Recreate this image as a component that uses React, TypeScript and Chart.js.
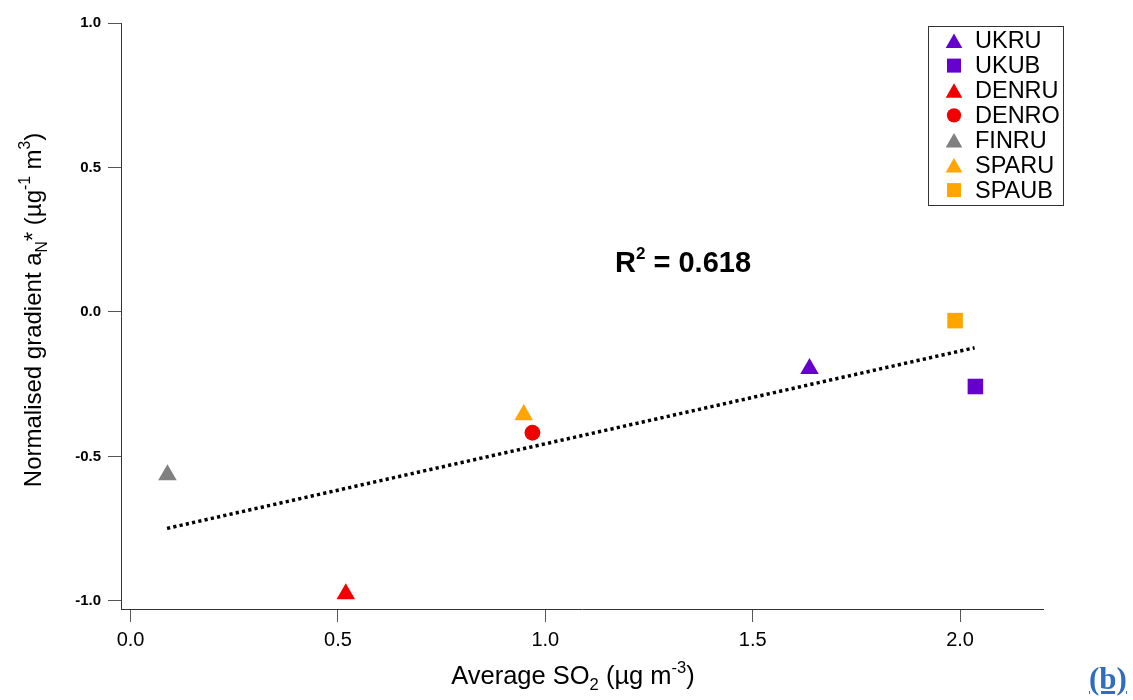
import React, { useEffect, useRef } from "react";
import { Chart, registerables } from "chart.js";

Chart.register(...registerables);

// ---- data ----
const seriesNames = ["UKRU", "UKUB", "DENRU", "DENRO", "FINRU", "SPARU", "SPAUB"];
const seriesX = [1.637, 2.037, 0.519, 0.969, 0.089, 0.948, 1.988];
const seriesY = [-0.196, -0.258, -0.976, -0.418, -0.564, -0.356, -0.03];
const seriesColors = ["#6600cc", "#6600cc", "#f00000", "#f00000", "#808080", "#ffa500", "#ffa500"];
const seriesShapes = ["triangle", "rect", "triangle", "circle", "triangle", "triangle", "rect"];
const fitX = [0.088, 2.035];
const fitY = [-0.749, -0.124];
const xTicks = [0, 0.5, 1.0, 1.5, 2.0];
const yTicks = [-1.0, -0.5, 0, 0.5, 1.0];
const rSquaredText = "0.618";

const FONT = '"Liberation Sans", Arial, Helvetica, sans-serif';

function radiusFor(shape: string) {
  if (shape === "triangle") return 10.7;
  if (shape === "rect") return 11;
  return 7.9;
}

type Seg = { t: string; s: number; dy: number };

function drawRich(ctx: CanvasRenderingContext2D, segs: Seg[], x: number, y: number, weight: string, align: "center" | "left") {
  let total = 0;
  const widths: number[] = [];
  for (const sg of segs) {
    ctx.font = `${weight} ${sg.s}px ${FONT}`;
    const w = ctx.measureText(sg.t).width;
    widths.push(w);
    total += w;
  }
  let cx = align === "center" ? x - total / 2 : x;
  ctx.textAlign = "left";
  ctx.textBaseline = "alphabetic";
  segs.forEach((sg, i) => {
    ctx.font = `${weight} ${sg.s}px ${FONT}`;
    ctx.fillText(sg.t, cx, y + sg.dy);
    cx += widths[i];
  });
}

function drawMarker(ctx: CanvasRenderingContext2D, shape: string, x: number, y: number, r: number, color: string) {
  ctx.fillStyle = color;
  ctx.beginPath();
  if (shape === "triangle") {
    for (let k = 0; k < 3; k++) {
      const a = (k * 2 * Math.PI) / 3;
      const px = x + Math.sin(a) * r;
      const py = y - Math.cos(a) * r;
      if (k === 0) ctx.moveTo(px, py);
      else ctx.lineTo(px, py);
    }
    ctx.closePath();
  } else if (shape === "rect") {
    const h = r * Math.SQRT1_2;
    ctx.rect(x - h, y - h, 2 * h, 2 * h);
  } else {
    ctx.arc(x, y, r, 0, Math.PI * 2);
  }
  ctx.fill();
}

const textPlugin = {
  id: "customText",
  afterDraw(chart: any) {
    const ctx: CanvasRenderingContext2D = chart.ctx;
    const area = chart.chartArea;
    ctx.save();
    ctx.fillStyle = "#000";
    const FX = 25.5;
    // x-axis title
    drawRich(
      ctx,
      [
        { t: "Average SO", s: FX, dy: 0 },
        { t: "2", s: FX * 0.65, dy: FX * 0.25 },
        { t: " (µg m", s: FX, dy: 0 },
        { t: "-3", s: FX * 0.65, dy: -FX * 0.45 },
        { t: ")", s: FX, dy: 0 },
      ],
      573,
      area.bottom + 75,
      "normal",
      "center"
    );
    // y-axis title
    const FY = 24;
    ctx.save();
    ctx.translate(41, 310);
    ctx.rotate(-Math.PI / 2);
    drawRich(
      ctx,
      [
        { t: "Normalised gradient a", s: FY, dy: 0 },
        { t: "N", s: FY * 0.65, dy: FY * 0.25 },
        { t: "*", s: FY, dy: 0 },
        { t: " (µg", s: FY, dy: 0 },
        { t: "-1", s: FY * 0.65, dy: -FY * 0.45 },
        { t: " m", s: FY, dy: 0 },
        { t: "3", s: FY * 0.65, dy: -FY * 0.45 },
        { t: ")", s: FY, dy: 0 },
      ],
      0,
      0,
      "normal",
      "center"
    );
    ctx.restore();
    // R^2 annotation
    drawRich(
      ctx,
      [
        { t: "R", s: 29, dy: 0 },
        { t: "2", s: 17, dy: -13 },
        { t: " = " + rSquaredText, s: 29, dy: 0 },
      ],
      615,
      272,
      "bold",
      "left"
    );
    // legend
    const bx = 928.5, by = 26.5, bw = 135, bh = 179;
    ctx.fillStyle = "#fff";
    ctx.fillRect(bx, by, bw, bh);
    ctx.strokeStyle = "#333";
    ctx.lineWidth = 1;
    ctx.strokeRect(bx, by, bw, bh);
    seriesNames.forEach((name, i) => {
      const cy = 40.7 + i * 24.9;
      const shape = seriesShapes[i];
      const r = radiusFor(shape) * 0.9;
      const my = shape === "triangle" ? cy + r / 4 : cy;
      drawMarker(ctx, shape, 954, my, r, seriesColors[i]);
      ctx.fillStyle = "#000";
      ctx.font = `normal 23.5px ${FONT}`;
      ctx.textAlign = "left";
      ctx.textBaseline = "middle";
      ctx.fillText(name, 975, cy + 1);
    });
    ctx.restore();
  },
};

export default function App() {
  const ref = useRef<HTMLCanvasElement | null>(null);

  useEffect(() => {
    if (!ref.current) return;
    const pointDatasets = seriesNames.map((name, i) => ({
      type: "scatter" as const,
      label: name,
      data: [{ x: seriesX[i], y: seriesY[i] }],
      pointStyle: seriesShapes[i],
      pointRadius: radiusFor(seriesShapes[i]),
      pointBackgroundColor: seriesColors[i],
      pointBorderColor: seriesColors[i],
      pointBorderWidth: 0,
      backgroundColor: seriesColors[i],
      borderColor: seriesColors[i],
      showLine: false,
    }));
    const fitDataset = {
      type: "line" as const,
      label: "fit",
      data: fitX.map((x, i) => ({ x, y: fitY[i] })),
      borderColor: "#000",
      borderWidth: 3.5,
      borderDash: [3.2, 3.2],
      pointRadius: 0,
      fill: false,
      tension: 0,
    };
    const chart = new Chart(ref.current, {
      type: "scatter",
      data: { datasets: [fitDataset as any, ...pointDatasets] },
      options: {
        responsive: false,
        animation: false,
        devicePixelRatio: 1,
        layout: { padding: { top: 23, right: 90, left: 0, bottom: 0 } },
        plugins: {
          legend: { display: false },
          tooltip: { enabled: false },
          title: { display: false },
        },
        scales: {
          x: {
            type: "linear",
            min: -0.023,
            max: 2.2,
            afterBuildTicks: (scale: any) => {
              scale.ticks = xTicks.map((v) => ({ value: v }));
            },
            afterFit: (scale: any) => {
              scale.height = 91;
            },
            ticks: {
              color: "#000",
              font: { family: FONT, size: 20 },
              padding: 6,
              maxRotation: 0,
              autoSkip: false,
              callback: (v: any) => Number(v).toFixed(1),
            },
            grid: {
              display: true,
              drawOnChartArea: false,
              drawTicks: true,
              tickLength: 13,
              color: "#555",
              lineWidth: 1,
            },
            border: { display: true, color: "#333", width: 1 },
            title: { display: false },
          },
          y: {
            type: "linear",
            min: -1.028,
            max: 1.0,
            afterBuildTicks: (scale: any) => {
              scale.ticks = yTicks.map((v) => ({ value: v }));
            },
            afterFit: (scale: any) => {
              scale.width = 121;
            },
            ticks: {
              color: "#000",
              font: { family: FONT, size: 15, weight: "bold" },
              padding: 7,
              autoSkip: false,
              callback: (v: any) => Number(v).toFixed(1),
            },
            grid: {
              display: true,
              drawOnChartArea: false,
              drawTicks: true,
              tickLength: 13,
              color: "#555",
              lineWidth: 1,
            },
            border: { display: true, color: "#333", width: 1 },
            title: { display: false },
          },
        },
      },
      plugins: [textPlugin],
    });
    return () => chart.destroy();
  }, []);

  return (
    <div style={{ position: "fixed", left: 0, top: 0, width: 1133, height: 700, background: "#fff" }}>
      <canvas ref={ref} width={1133} height={700} style={{ display: "block", width: 1133, height: 700 }} />
      <div
        style={{
          position: "absolute",
          left: 1089,
          top: 661,
          fontFamily: '"Liberation Serif", "Times New Roman", serif',
          fontWeight: "bold",
          fontSize: 31,
          color: "#2f6dc0",
          textDecoration: "underline",
          lineHeight: "36px",
          whiteSpace: "nowrap",
        }}
      >
        (b)
      </div>
    </div>
  );
}
